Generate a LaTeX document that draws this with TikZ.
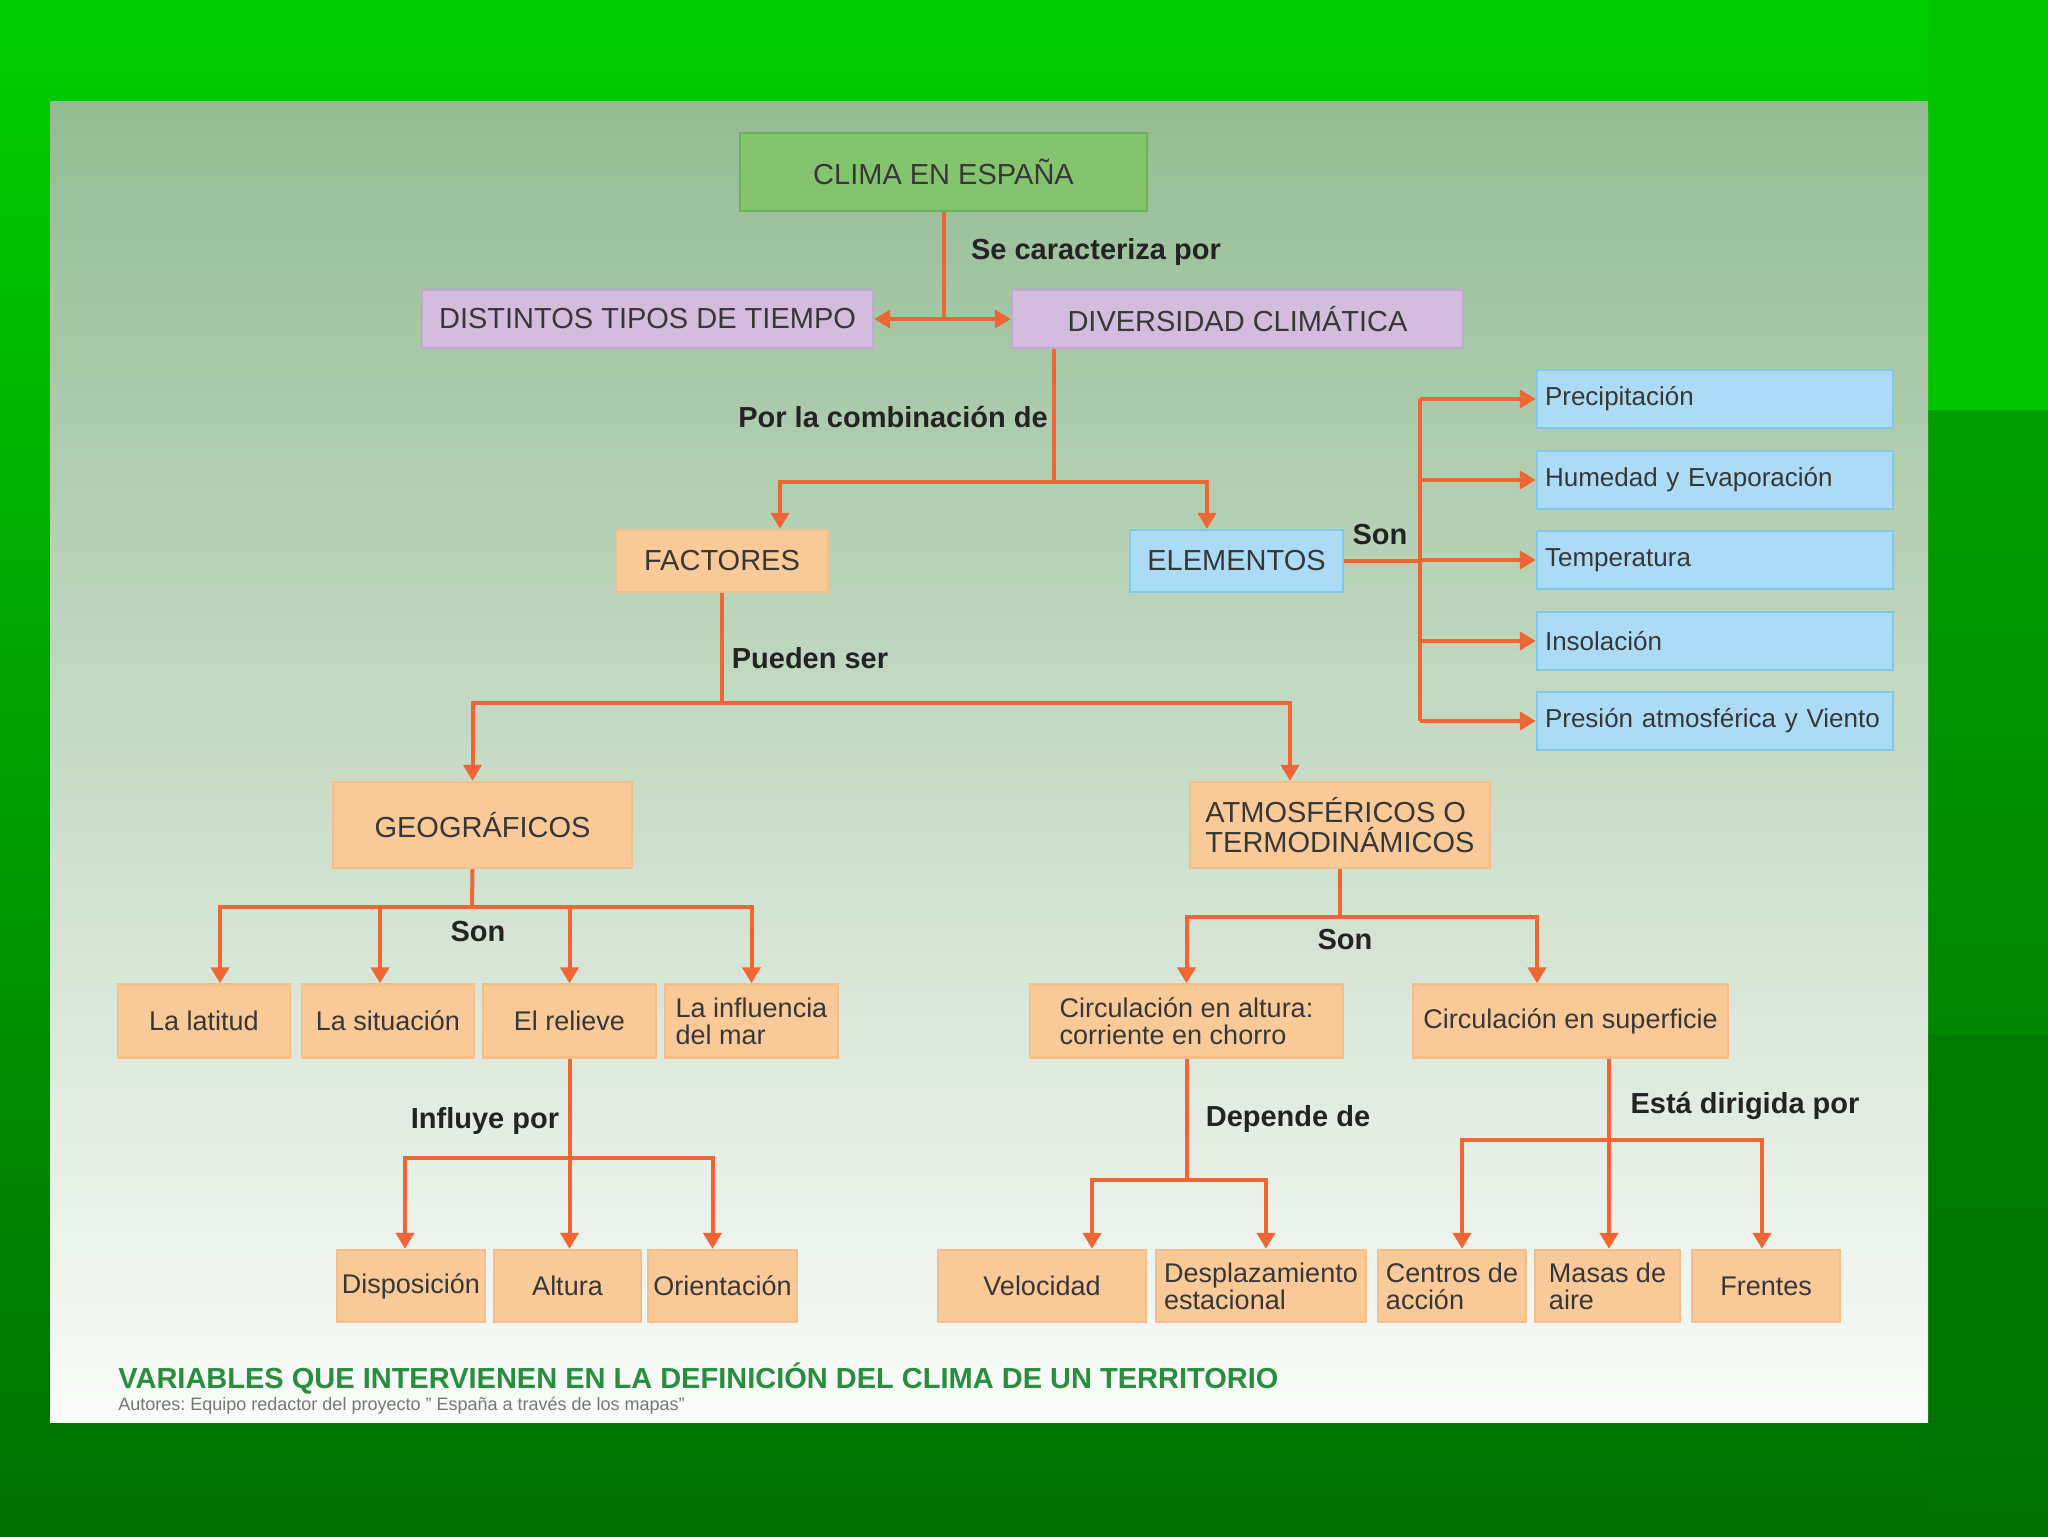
\documentclass[tikz,border=0pt]{standalone}
\usepackage{fontspec}
\setmainfont{Liberation Sans}
\usetikzlibrary{arrows.meta}
\frenchspacing
\definecolor{lineColor}{RGB}{238,102,52}
\definecolor{textColor}{RGB}{55,55,55}
\definecolor{labelColor}{RGB}{35,35,35}
\definecolor{climaFill}{RGB}{132,196,110}
\definecolor{climaEdge}{RGB}{108,178,88}
\definecolor{tiempoFill}{RGB}{212,188,222}
\definecolor{tiempoEdge}{RGB}{198,166,212}
\definecolor{factorFill}{RGB}{249,201,152}
\definecolor{factorEdge}{RGB}{243,190,140}
\definecolor{elementFill}{RGB}{172,220,245}
\definecolor{elementEdge}{RGB}{128,200,236}
\definecolor{titleColor}{RGB}{40,142,62}
\definecolor{authorColor}{RGB}{115,120,115}
\definecolor{slideTop}{RGB}{0,206,0}
\definecolor{slideBottom}{RGB}{0,112,0}
\definecolor{stripTop}{RGB}{0,196,0}
\definecolor{stripMidTop}{RGB}{0,158,0}
\definecolor{stripMidBottom}{RGB}{0,134,0}
\definecolor{stripLowTop}{RGB}{0,124,0}
\definecolor{stripLowBottom}{RGB}{0,114,0}
\definecolor{panelTop}{RGB}{148,188,148}
\definecolor{panelMiddle}{RGB}{196,219,196}
\definecolor{panelBottom}{RGB}{250,251,250}
\newcommand{\capsFont}{\fontsize{14.5}{15}\selectfont}
\newcommand{\boxFont}{\fontsize{13.5}{13.5}\selectfont}
\newcommand{\itemFont}{\fontsize{13}{13}\selectfont}
\newcommand{\labelFont}{\fontsize{14.5}{15}\selectfont\bfseries}
\tikzstyle{link} = [draw=lineColor, line width=2pt]
\tikzstyle{arrowLink} = [link, -{Triangle[length=8pt, width=9pt]}]
\tikzstyle{boxStyle} = [draw, line width=1.2pt, inner sep=0pt, text=textColor]
\tikzstyle{climaBox} = [boxStyle, fill=climaFill, draw=climaEdge, font=\capsFont]
\tikzstyle{tiempoBox} = [boxStyle, fill=tiempoFill, draw=tiempoEdge, font=\capsFont, minimum width=225.5pt, minimum height=29pt]
\tikzstyle{factorBox} = [boxStyle, fill=factorFill, draw=factorEdge, font=\boxFont, align=left]
\tikzstyle{capsFactor} = [factorBox, font=\capsFont]
\tikzstyle{elementBox} = [boxStyle, fill=elementFill, draw=elementEdge, font=\capsFont]
\tikzstyle{elementItem} = [elementBox, font=\itemFont, text width=170pt, inner xsep=4pt, minimum height=29pt, align=left]
\tikzstyle{linkLabel} = [font=\labelFont, text=labelColor, inner sep=1pt]
\begin{document}
\begin{tikzpicture}[x=0.5pt, y=-0.5pt]
  % slide background
  \useasboundingbox (0,0) rectangle (2048,1536);
  \shade[top color=slideTop, bottom color=slideBottom] (0,0) rectangle (2048,1536);
  \fill[stripTop] (1928,0) rectangle (2048,410);
  \shade[top color=stripMidTop, bottom color=stripMidBottom] (1928,410) rectangle (2048,1035);
  \shade[top color=stripLowTop, bottom color=stripLowBottom] (1928,1035) rectangle (2048,1536);
  \shade[top color=panelTop, middle color=panelMiddle, bottom color=panelBottom] (50,102) rectangle (1928,1422);

  % boxes
  \node[climaBox, minimum width=203.5pt, minimum height=39pt] (clima) at (943.5,172) {CLIMA EN ESPAÑA};
  \node[tiempoBox] (tipos) at (647.5,319) {DISTINTOS TIPOS DE TIEMPO};
  \node[tiempoBox] (diversidad) at (1237.5,319) {DIVERSIDAD CLIMÁTICA};
  \node[capsFactor, minimum width=106pt, minimum height=31pt] (factores) at (722,561) {FACTORES};
  \node[elementBox, minimum width=106.5pt, minimum height=31pt] (elementos) at (1236.5,561) {ELEMENTOS};
  \node[elementItem] (precip) at (1715,399) {Precipitación};
  \node[elementItem] (humedad) at (1715,480) {Humedad y Evaporación};
  \node[elementItem] (temperatura) at (1715,560) {Temperatura};
  \node[elementItem] (insolacion) at (1715,641) {Insolación};
  \node[elementItem] (presion) at (1715,721) {Presión atmosférica y Viento};
  \node[capsFactor, minimum width=149.5pt, minimum height=43pt] (geograficos) at (482.5,825) {GEOGRÁFICOS};
  \node[capsFactor, minimum width=150pt, minimum height=43pt] (atmosfericos) at (1340,825) {ATMOSFÉRICOS O\\TERMODINÁMICOS};
  \node[factorBox, minimum width=86pt, minimum height=36.5pt] (latitud) at (204,1021) {La latitud};
  \node[factorBox, minimum width=86pt, minimum height=36.5pt] (situacion) at (388,1021) {La situación};
  \node[factorBox, minimum width=86.5pt, minimum height=36.5pt] (relieve) at (569.5,1021) {El relieve};
  \node[factorBox, minimum width=86.5pt, minimum height=36.5pt] (influencia) at (751.5,1021) {La influencia\\del mar};
  \node[factorBox, minimum width=156.5pt, minimum height=36.5pt] (enAltura) at (1186.5,1021) {Circulación en altura:\\corriente en chorro};
  \node[factorBox, minimum width=157.5pt, minimum height=36.5pt] (superficie) at (1570.5,1021) {Circulación en superficie};
  \node[factorBox, minimum width=74pt, minimum height=36pt] (disposicion) at (411,1286) {Disposición};
  \node[factorBox, minimum width=73.5pt, minimum height=36pt] (altura) at (567.5,1286) {Altura};
  \node[factorBox, minimum width=74.5pt, minimum height=36pt] (orientacion) at (722.5,1286) {Orientación};
  \node[factorBox, minimum width=104pt, minimum height=36pt] (velocidad) at (1042,1286) {Velocidad};
  \node[factorBox, minimum width=105pt, minimum height=36pt] (desplazamiento) at (1261,1286) {Desplazamiento\\estacional};
  \node[factorBox, minimum width=74pt, minimum height=36pt] (centros) at (1452,1286) {Centros de\\acción};
  \node[factorBox, minimum width=72.5pt, minimum height=36pt] (masas) at (1607.5,1286) {Masas de\\aire};
  \node[factorBox, minimum width=74pt, minimum height=36pt] (frentes) at (1766,1286) {Frentes};

  % connector labels
  \node[linkLabel] (seCaracteriza) at (1096,252) {Se caracteriza por};
  \node[linkLabel] (porCombinacion) at (893,417) {Por la combinación de};
  \node[linkLabel] (sonElementos) at (1380,535) {Son};
  \node[linkLabel] (puedenSer) at (810,658) {Pueden ser};
  \node[linkLabel] (sonGeograficos) at (478,932) {Son};
  \node[linkLabel] (sonAtmosfericos) at (1345,940) {Son};
  \node[linkLabel] (influyePor) at (485,1121) {Influye por};
  \node[linkLabel] (dependeDe) at (1288,1119) {Depende de};
  \node[linkLabel] (dirigidaPor) at (1745,1106) {Está dirigida por};

  % connectors
  \coordinate (charJoint) at (clima.south |- tipos.east);
  \draw[link] (clima.south) -- (charJoint);
  \draw[arrowLink] (charJoint) -- (tipos.east);
  \draw[arrowLink] (charJoint) -- (diversidad.west);

  \coordinate (combJoint) at (1054,482);
  \draw[link] (combJoint |- diversidad.south) -- (combJoint);
  \draw[arrowLink] (combJoint) -| ([xshift=29pt]factores.north);
  \draw[arrowLink] (combJoint) -| ([xshift=-14.75pt]elementos.north);

  \coordinate (elemBus) at (1420,561);
  \draw[link] (elementos.east) -- (elemBus);
  \draw[link] (elemBus |- precip.west) -- (elemBus |- presion.west);
  \foreach \item in {precip, humedad, temperatura, insolacion, presion}
    \draw[arrowLink] (elemBus |- \item.west) -- (\item.west);

  \coordinate (factBus) at (722,703);
  \draw[link] (factores.south) -- (factBus);
  \draw[arrowLink] (factBus) -| ([xshift=-5pt]geograficos.north);
  \draw[arrowLink] (factBus) -| ([xshift=-25pt]atmosfericos.north);

  \coordinate (geoBus) at (472,907);
  \draw[link] ([xshift=-5pt]geograficos.south) -- (geoBus);
  \draw[arrowLink] (geoBus) -| ([xshift=8pt]latitud.north);
  \draw[arrowLink] (geoBus) -| ([xshift=-4pt]situacion.north);
  \draw[arrowLink] (geoBus) -| (relieve.north);
  \draw[arrowLink] (geoBus) -| (influencia.north);

  \coordinate (atmBus) at (1340,917);
  \draw[link] (atmosfericos.south) -- (atmBus);
  \draw[arrowLink] (atmBus) -| (enAltura.north);
  \draw[arrowLink] (atmBus) -| ([xshift=-16.75pt]superficie.north);

  \coordinate (relBus) at (569.5,1158);
  \draw[link] (relieve.south) -- (relBus);
  \draw[arrowLink] (relBus) -| ([xshift=-3pt]disposicion.north);
  \draw[arrowLink] (relBus) -| ([xshift=1pt]altura.north);
  \draw[arrowLink] (relBus) -| ([xshift=-5pt]orientacion.north);

  \coordinate (altBus) at (1186.5,1180);
  \draw[link] (enAltura.south) -- (altBus);
  \draw[arrowLink] (altBus) -| ([xshift=25pt]velocidad.north);
  \draw[arrowLink] (altBus) -| ([xshift=2.5pt]desplazamiento.north);

  \coordinate (supBus) at (1609,1140);
  \draw[link] ([xshift=19.25pt]superficie.south) -- (supBus);
  \draw[arrowLink] (supBus) -| ([xshift=5pt]centros.north);
  \draw[arrowLink] (supBus) -| ([xshift=0.75pt]masas.north);
  \draw[arrowLink] (supBus) -| ([xshift=-2pt]frentes.north);

  % caption
  \node[anchor=west, font=\fontsize{14.5}{14.5}\selectfont\bfseries, text=titleColor, inner sep=0pt] (titulo) at (118,1378) {VARIABLES QUE INTERVIENEN EN LA DEFINICIÓN DEL CLIMA DE UN TERRITORIO};
  \node[anchor=west, font=\fontsize{9}{9}\selectfont, text=authorColor, inner sep=0pt] (autores) at (118,1406) {Autores: Equipo redactor del proyecto " España a través de los mapas"};
\end{tikzpicture}
\end{document}
